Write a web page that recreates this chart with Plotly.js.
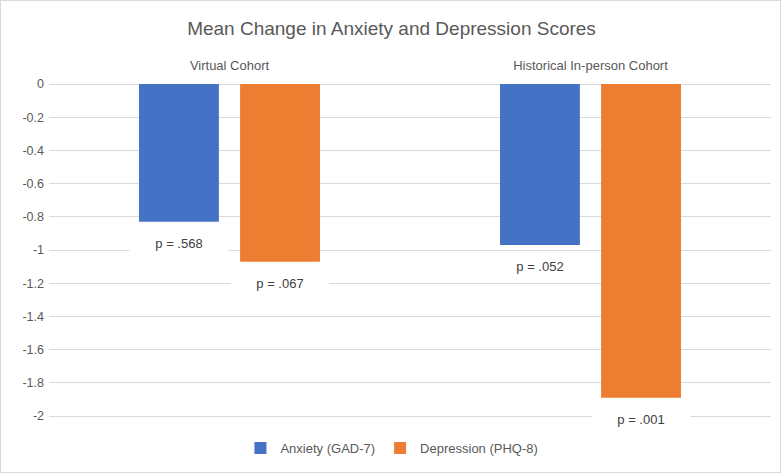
<!DOCTYPE html>
<html>
<head>
<meta charset="utf-8">
<script src="https://cdn.plot.ly/plotly-3.0.1.min.js"></script>
<style>
html,body{margin:0;padding:0;background:#fff;}
#chart{width:781px;height:473px;box-sizing:border-box;border:1px solid #d9d9d9;}
</style>
</head>
<body>
<div id="chart"></div>
<script>
const categories = ["Virtual Cohort", "Historical In-person Cohort"];
const seriesNames = ["Anxiety (GAD-7)", "Depression (PHQ-8)"];
const anxiety = [-0.83, -0.97];
const depression = [-1.07, -1.89];
const anxietyP = ["p = .568", "p = .052"];
const depressionP = ["p = .067", "p = .001"];
const yTicks = [0, -0.2, -0.4, -0.6, -0.8, -1, -1.2, -1.4, -1.6, -1.8, -2];

const colors = ["#4472c4", "#ed7d31"];
const font = "Liberation Sans, Arial, sans-serif";

const traces = [
  {type: "bar", name: seriesNames[0], x: categories, y: anxiety, marker: {color: colors[0]}, hoverinfo: "none"},
  {type: "bar", name: seriesNames[1], x: categories, y: depression, marker: {color: colors[1]}, hoverinfo: "none"}
];

const annotations = [];
const series = [[anxiety, anxietyP, -50.5], [depression, depressionP, 50.5]];
series.forEach(([vals, labels, shift]) => {
  vals.forEach((v, i) => {
    annotations.push({
      x: categories[i], y: v, xref: "x", yref: "y",
      text: labels[i], showarrow: false,
      xshift: shift, yshift: -8, yanchor: "top",
      bgcolor: "#ffffff", width: 96, height: 22,
      font: {family: font, size: 13, color: "#404040"}
    });
  });
});

const layout = {
  width: 781, height: 473,
  paper_bgcolor: "rgba(0,0,0,0)", plot_bgcolor: "#ffffff",
  margin: {l: 48, r: 11, t: 83, b: 53},
  title: {text: "Mean Change in Anxiety and Depression Scores", x: 0.5, xref: "container", y: 0.943, yref: "container", yanchor: "middle",
    font: {family: font, size: 19, color: "#595959"}},
  barmode: "group", bargap: 0.44, bargroupgap: 0.21,
  xaxis: {side: "top", showline: false, showgrid: false, zeroline: false, ticks: "",
    tickfont: {family: font, size: 13, color: "#595959"}, ticklabelstandoff: 10},
  yaxis: {range: [-2.03, 0], tickvals: yTicks, ticktext: yTicks.map(String), showgrid: true, gridcolor: "#d9d9d9", gridwidth: 1,
    zeroline: true, zerolinecolor: "#d9d9d9", zerolinewidth: 1, showline: false, ticks: "",
    tickfont: {family: font, size: 12.5, color: "#595959"}, ticklabelstandoff: 4},
  legend: {orientation: "h", x: 0.475, xanchor: "center", y: -0.08, yanchor: "middle",
    font: {family: font, size: 13, color: "#595959"}, itemwidth: 30, traceorder: "normal"},
  annotations: annotations,
  showlegend: true
};

Plotly.newPlot("chart", traces, layout, {displayModeBar: false, staticPlot: true});
</script>
</body>
</html>
